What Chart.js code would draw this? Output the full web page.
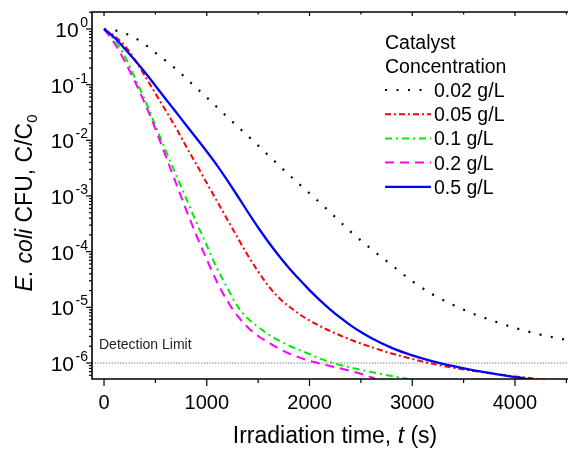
<!DOCTYPE html>
<html>
<head>
<meta charset="utf-8">
<script src="https://cdn.jsdelivr.net/npm/chart.js@4.4.0/dist/chart.umd.min.js"></script>
<style>
  html, body { margin: 0; padding: 0; background: #fff; }
  canvas { display: block; }
</style>
</head>
<body>
<canvas id="chart" width="568" height="449"></canvas>
<script>
// irradiation time (s) and surviving fraction C/C0
var time002 = [0, 100, 200, 300, 400, 500, 600, 700, 800, 900, 1000, 1200, 1400, 1600, 1800, 2000, 2200, 2400, 2600, 2800, 3000, 3200, 3400, 3600, 3800, 4000, 4200, 4400, 4516];
var frac002 = [1, 0.955, 0.841, 0.692, 0.525, 0.372, 0.269, 0.191, 0.129, 0.0871, 0.0589, 0.0263, 0.0120, 5.37e-3, 2.40e-3, 1.12e-3, 5.13e-4, 2.29e-4, 1.12e-4, 5.75e-5, 2.95e-5, 1.70e-5, 1.10e-5, 7.59e-6, 5.62e-6, 4.27e-6, 3.39e-6, 2.82e-6, 2.57e-6];

var time005 = [0, 100, 200, 300, 400, 500, 600, 700, 800, 900, 1000, 1100, 1200, 1300, 1400, 1500, 1600, 1700, 1800, 1900, 2000, 2100, 2200, 2300, 2400, 2500, 2600, 2800, 3000, 3200, 3400, 3600, 3800, 4000, 4200, 4300];
var frac005 = [1, 0.748, 0.506, 0.282, 0.141, 0.0697, 0.0345, 0.0168, 7.75e-3, 3.68e-3, 1.71e-3, 8.07e-4, 3.80e-4, 1.79e-4, 8.53e-5, 4.41e-5, 2.42e-5, 1.50e-5, 1.04e-5, 7.60e-6, 5.81e-6, 4.62e-6, 3.76e-6, 3.12e-6, 2.62e-6, 2.24e-6, 1.94e-6, 1.48e-6, 1.18e-6, 9.68e-7, 8.20e-7, 7.19e-7, 6.40e-7, 5.75e-7, 5.25e-7, 5.04e-7];

var time01 = [0, 100, 200, 300, 400, 500, 600, 700, 800, 900, 1000, 1100, 1200, 1300, 1400, 1500, 1600, 1700, 1800, 1900, 2000, 2100, 2200, 2300, 2400, 2600, 2800, 2980];
var frac01 = [1, 0.648, 0.327, 0.134, 0.0520, 0.0185, 6.57e-3, 2.43e-3, 9.02e-4, 3.34e-4, 1.29e-4, 4.99e-5, 2.23e-5, 1.04e-5, 6.31e-6, 4.44e-6, 3.25e-6, 2.54e-6, 2.06e-6, 1.71e-6, 1.45e-6, 1.20e-6, 1.04e-6, 9.20e-7, 8.30e-7, 6.89e-7, 5.83e-7, 5.08e-7];

var time02 = [0, 100, 200, 300, 400, 500, 600, 700, 800, 900, 1000, 1100, 1200, 1300, 1400, 1500, 1600, 1700, 1800, 1900, 2000, 2200, 2400, 2600, 2650];
var frac02 = [1, 0.561, 0.266, 0.114, 0.0450, 0.0160, 5.24e-3, 1.71e-3, 5.61e-4, 1.95e-4, 7.24e-5, 2.85e-5, 1.30e-5, 7.00e-6, 4.35e-6, 3.05e-6, 2.34e-6, 1.82e-6, 1.48e-6, 1.26e-6, 1.09e-6, 8.83e-7, 7.18e-7, 5.56e-7, 5.06e-7];

var time05 = [0, 100, 200, 300, 400, 500, 600, 700, 800, 900, 1000, 1100, 1200, 1300, 1400, 1500, 1600, 1700, 1800, 1900, 2000, 2100, 2200, 2300, 2400, 2500, 2600, 2800, 3000, 3200, 3400, 3600, 3800, 4000, 4100, 4160];
var frac05 = [1, 0.703, 0.447, 0.275, 0.1656, 0.0959, 0.0553, 0.0323, 0.0187, 0.0109, 6.31e-3, 3.55e-3, 1.91e-3, 1.00e-3, 5.16e-4, 2.72e-4, 1.49e-4, 8.53e-5, 5.11e-5, 3.19e-5, 2.04e-5, 1.35e-5, 9.23e-6, 6.52e-6, 4.75e-6, 3.60e-6, 2.81e-6, 1.87e-6, 1.37e-6, 1.07e-6, 8.75e-7, 7.36e-7, 6.40e-7, 5.60e-7, 5.26e-7, 4.90e-7];

var seriesLabels = ["0.02 g/L", "0.05 g/L", "0.1 g/L", "0.2 g/L", "0.5 g/L"];
var legendTitle = ["Catalyst", "Concentration"];
var detectionLimit = 1e-6;
var detectionSpan = [-117, 4516];
var xTickValues = [0, 1000, 2000, 3000, 4000];
var yTickExponents = [0, -1, -2, -3, -4, -5, -6];

var FONT = '"Liberation Sans", Arial, sans-serif';

function pairs(t, c) {
    var out = [];
    for (var i = 0; i < t.length; i++) out.push({x: t[i], y: c[i]});
    return out;
}

function curve(label, t, c, color, dash, width, order) {
    return {
        label: label,
        data: pairs(t, c),
        borderColor: color,
        borderDash: dash,
        borderWidth: width,
        order: order,
        showLine: true,
        pointRadius: 0,
        cubicInterpolationMode: 'monotone',
        fill: false
    };
}

var datasets = [
    curve(seriesLabels[0], time002, frac002, '#000000', [2, 9.5], 2.2, 4),
    curve(seriesLabels[1], time005, frac005, '#ff0000', [6, 3, 2, 3], 2, 3),
    curve(seriesLabels[2], time01, frac01, '#00ee00', [7, 4, 2, 4], 2, 2),
    curve(seriesLabels[3], time02, frac02, '#ff00ff', [9, 6], 2, 1),
    curve(seriesLabels[4], time05, frac05, '#0000ff', [], 2.3, 0),
    {
        label: 'Detection Limit',
        data: pairs(detectionSpan, [detectionLimit, detectionLimit]),
        borderColor: '#666666',
        borderDash: [1.2, 1.6],
        borderWidth: 1,
        order: 5,
        showLine: true,
        pointRadius: 0
    }
];

// draw "10" with a raised exponent, right edge at xRight
function drawPower(ctx, exp, xRight, yTick) {
    ctx.font = '21px ' + FONT;
    var wb = ctx.measureText('10').width;
    ctx.font = '14px ' + FONT;
    var we = ctx.measureText(String(exp)).width;
    var x0 = xRight - wb - we - 1.5;
    ctx.font = '21px ' + FONT;
    ctx.fillText('10', x0, yTick + 8);
    ctx.font = '14px ' + FONT;
    ctx.fillText(String(exp), x0 + wb + 1.5, yTick - 2);
}

// write a run of [text, font, dy] pieces starting at x
function drawRuns(ctx, runs, x, y) {
    runs.forEach(function(r) {
        ctx.font = r[1];
        ctx.fillText(r[0], x, y + (r[2] || 0));
        x += ctx.measureText(r[0]).width;
    });
}
function runsWidth(ctx, runs) {
    var w = 0;
    runs.forEach(function(r) { ctx.font = r[1]; w += ctx.measureText(r[0]).width; });
    return w;
}

var decor = {
    id: 'decor',
    afterDraw: function(chart) {
        var ctx = chart.ctx, area = chart.chartArea;
        var xs = chart.scales.x, ys = chart.scales.y;
        ctx.save();
        ctx.strokeStyle = '#000';
        ctx.fillStyle = '#000';
        ctx.textBaseline = 'alphabetic';

        // frame (right side runs off the page)
        ctx.lineWidth = 1.6;
        ctx.beginPath();
        ctx.moveTo(area.right + 2, area.top);
        ctx.lineTo(area.left, area.top);
        ctx.lineTo(area.left, area.bottom);
        ctx.lineTo(area.right + 2, area.bottom);
        ctx.stroke();

        // x ticks, majors every 1000 and minors between
        ctx.lineWidth = 1.2;
        for (var v = 0; v <= xs.max; v += 500) {
            var px = xs.getPixelForValue(v);
            var major = v % 1000 === 0;
            ctx.beginPath();
            ctx.moveTo(px, area.bottom);
            ctx.lineTo(px, area.bottom + (major ? 7 : 4));
            ctx.moveTo(px, area.top);
            ctx.lineTo(px, area.top + (major ? 4 : 2.5));
            ctx.stroke();
        }

        // y ticks on the log axis
        for (var e = -7; e <= 0; e++) {
            for (var m = 1; m <= 9; m++) {
                var val = m * Math.pow(10, e);
                if (val < ys.min || val > ys.max) continue;
                var py = ys.getPixelForValue(val);
                ctx.beginPath();
                ctx.moveTo(area.left, py);
                ctx.lineTo(area.left - (m === 1 ? 6 : 3), py);
                ctx.stroke();
            }
        }

        // tick labels
        ctx.textAlign = 'center';
        ctx.font = '20px ' + FONT;
        xTickValues.forEach(function(t) {
            ctx.fillText(String(t), xs.getPixelForValue(t), 409);
        });
        ctx.textAlign = 'left';
        yTickExponents.forEach(function(ex) {
            drawPower(ctx, ex, 88, ys.getPixelForValue(Math.pow(10, ex)));
        });

        // x title
        var xRuns = [['Irradiation time, ', '23px ' + FONT], ['t', 'italic 23px ' + FONT], [' (s)', '23px ' + FONT]];
        var xw = runsWidth(ctx, xRuns);
        drawRuns(ctx, xRuns, 335 - xw / 2, 443);

        // y title, rotated
        var yRuns = [['E. coli', 'italic 23px ' + FONT], [' CFU, C/C', '23px ' + FONT], ['0', '15px ' + FONT, 5]];
        var yw = runsWidth(ctx, yRuns);
        ctx.save();
        ctx.translate(32, 203);
        ctx.rotate(-Math.PI / 2);
        drawRuns(ctx, yRuns, -yw / 2, 0);
        ctx.restore();

        // detection limit caption
        ctx.font = '14px ' + FONT;
        ctx.fillStyle = '#222';
        ctx.fillText('Detection Limit', 99, 349);
        ctx.fillStyle = '#000';

        // legend
        ctx.font = '19.5px ' + FONT;
        ctx.fillText(legendTitle[0], 385, 49);
        ctx.fillText(legendTitle[1], 385, 73);
        var rowY = 90;
        chart.data.datasets.forEach(function(ds) {
            if (seriesLabels.indexOf(ds.label) < 0) return;
            ctx.save();
            ctx.strokeStyle = ds.borderColor;
            ctx.lineWidth = ds.borderWidth;
            ctx.setLineDash(ds.borderDash);
            ctx.beginPath();
            ctx.moveTo(385, rowY);
            ctx.lineTo(431, rowY);
            ctx.stroke();
            ctx.restore();
            ctx.font = '19.5px ' + FONT;
            ctx.fillText(ds.label, 434, rowY + 7);
            rowY += 24.2;
        });

        ctx.restore();
    }
};

new Chart(document.getElementById('chart'), {
    type: 'scatter',
    data: { datasets: datasets },
    options: {
        responsive: false,
        animation: false,
        layout: { padding: { left: 92, right: 0, top: 12, bottom: 70 } },
        scales: {
            x: { type: 'linear', min: -117, max: 4516, display: false },
            y: { type: 'logarithmic', min: 5.16e-7, max: 2.02, display: false }
        },
        plugins: {
            legend: { display: false },
            tooltip: { enabled: false }
        }
    },
    plugins: [decor]
});
</script>
</body>
</html>
